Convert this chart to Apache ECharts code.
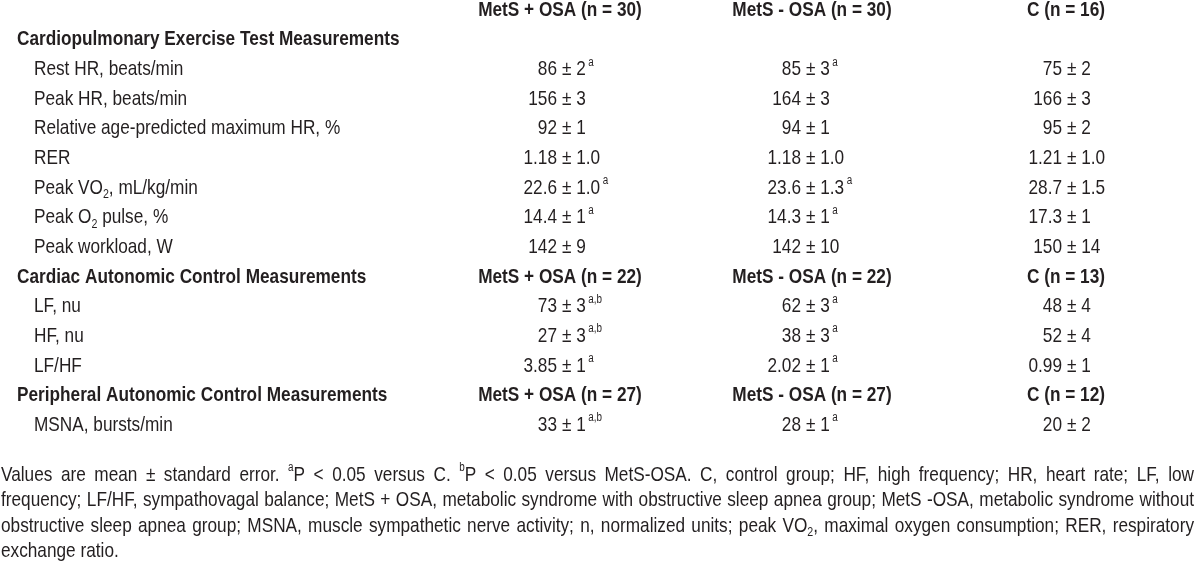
<!DOCTYPE html>
<html><head><meta charset="utf-8">
<script src="https://cdn.jsdelivr.net/npm/echarts@6/dist/echarts.min.js"></script>
<style>html,body{margin:0;padding:0;background:#fff}#c{width:1200px;height:564px}</style>
</head><body><div id="c"></div>
<script>
// ---------------- DATA ----------------
const rowLabels = ['', 'Cardiopulmonary Exercise Test Measurements', 'Rest HR, beats/min', 'Peak HR, beats/min',
  'Relative age-predicted maximum HR, %', 'RER', 'Peak VO_2, mL/kg/min', 'Peak O_2 pulse, %', 'Peak workload, W',
  'Cardiac Autonomic Control Measurements', 'LF, nu', 'HF, nu', 'LF/HF',
  'Peripheral Autonomic Control Measurements', 'MSNA, bursts/min'];
const rowKinds = ['group', 'section', 'item', 'item', 'item', 'item', 'item', 'item', 'item',
  'section', 'item', 'item', 'item', 'section', 'item'];
const metsWithOsa = ['MetS + OSA (n = 30)', '', '86 ± 2^a', '156 ± 3', '92 ± 1', '1.18 ± 1.0', '22.6 ± 1.0^a',
  '14.4 ± 1^a', '142 ± 9', 'MetS + OSA (n = 22)', '73 ± 3^a,b', '27 ± 3^a,b', '3.85 ± 1^a', 'MetS + OSA (n = 27)', '33 ± 1^a,b'];
const metsWithoutOsa = ['MetS - OSA (n = 30)', '', '85 ± 3^a', '164 ± 3', '94 ± 1', '1.18 ± 1.0', '23.6 ± 1.3^a',
  '14.3 ± 1^a', '142 ± 10', 'MetS - OSA (n = 22)', '62 ± 3^a', '38 ± 3^a', '2.02 ± 1^a', 'MetS - OSA (n = 27)', '28 ± 1^a'];
const controlGroup = ['C (n = 16)', '', '75 ± 2', '166 ± 3', '95 ± 2', '1.21 ± 1.0', '28.7 ± 1.5',
  '17.3 ± 1', '150 ± 14', 'C (n = 13)', '48 ± 4', '52 ± 4', '0.99 ± 1', 'C (n = 12)', '20 ± 2'];
const footnoteLines = [
  'Values are mean ± standard error. ^aP < 0.05 versus C. ^bP < 0.05 versus MetS-OSA. C, control group; HF, high frequency; HR, heart rate; LF, low',
  'frequency; LF/HF, sympathovagal balance; MetS + OSA, metabolic syndrome with obstructive sleep apnea group; MetS -OSA, metabolic syndrome without',
  'obstructive sleep apnea group; MSNA, muscle sympathetic nerve activity; n, normalized units; peak VO_2, maximal oxygen consumption; RER, respiratory',
  'exchange ratio.'
];

// ---------------- LAYOUT / STYLE ----------------
const FONT = '"Liberation Sans", Arial, sans-serif';
const INK = '#231f20';
const FS = 21;
const FOOT_FS = 21;
const SX = 0.82;   // horizontal condensing to mimic a narrow face
const L = {
  sectionX: 17, itemX: 34,
  colCenter: [560, 812, 1066],
  pmX: [562, 806, 1067],
  pmGap: 5,
  footLeft: 1, footRight: 1194,
  footY: [475, 500.5, 526, 551.5]
};

function richStyles(size) {
  return {
    n: { fontSize: size, fontFamily: FONT, fill: INK, lineHeight: 26 },
    b: { fontSize: size, fontFamily: FONT, fontWeight: 'bold', fill: INK, lineHeight: 26 },
    sup: { fontSize: Math.round(size * 0.58), fontFamily: FONT, fill: INK, lineHeight: 14, verticalAlign: 'top', padding: [0, 0, 0, 3] },
    sup0: { fontSize: Math.round(size * 0.58), fontFamily: FONT, fill: INK, lineHeight: 14, verticalAlign: 'top' },
    sub: { fontSize: Math.round(size * 0.62), fontFamily: FONT, fill: INK, lineHeight: 14, verticalAlign: 'bottom' }
  };
}
function parseSegs(s) {
  const out = []; const re = /\^([a-z,]+)|_(\d+)/g; let last = 0, m;
  while ((m = re.exec(s))) {
    if (m.index > last) out.push({ t: 'n', s: s.slice(last, m.index) });
    out.push(m[1] ? { t: 'sup', s: m[1] } : { t: 'sub', s: m[2] });
    last = re.lastIndex;
  }
  if (last < s.length) out.push({ t: 'n', s: s.slice(last) });
  return out;
}
function toRich(s, base, supStyle) {
  return parseSegs(s).map(g => '{' + (g.t === 'n' ? base : (g.t === 'sup' ? (supStyle || 'sup') : 'sub')) + '|' + g.s + '}').join('');
}
const RICH = richStyles(FS);
const FRICH = richStyles(FOOT_FS);

function rowY(api, i) { return api.coord([0, i])[1]; }
function txt(x, y, text, rich, align) {
  return { type: 'text', x: x, y: y, scaleX: SX, style: { text: text, rich: rich, x: 0, y: 0, align: align, verticalAlign: 'middle' } };
}

function labelRender(params, api) {
  const i = params.dataIndex;
  const kind = rowKinds[i];
  const t = rowLabels[i];
  if (!t) return { type: 'group', children: [] };
  const bold = kind === 'section';
  return txt(bold ? L.sectionX : L.itemX, rowY(api, i), toRich(t, bold ? 'b' : 'n'), RICH, 'left');
}
function makeColRender(values, c) {
  return function (params, api) {
    const i = params.dataIndex;
    const v = values[i];
    const y = rowY(api, i);
    if (!v) return { type: 'group', children: [] };
    if (rowKinds[i] !== 'item') {
      return txt(L.colCenter[c], y, toRich(v, 'b'), RICH, 'center');
    }
    const k = v.indexOf('±');
    const left = v.slice(0, k).trim();
    const right = v.slice(k);
    return {
      type: 'group',
      children: [
        txt(L.pmX[c] - L.pmGap, y, '{n|' + left + '}', RICH, 'right'),
        txt(L.pmX[c], y, toRich(right, 'n'), RICH, 'left')
      ]
    };
  };
}

// ---------- footnote (justified) ----------
const mctx = document.createElement('canvas').getContext('2d');
function segWidth(g) {
  const st = FRICH[g.t === 'n' ? 'n' : (g.t === 'sup' ? 'sup0' : 'sub')];
  mctx.font = st.fontSize + 'px ' + FONT;
  return mctx.measureText(g.s).width * SX;
}
function wordWidth(w) { return parseSegs(w).reduce((a, g) => a + segWidth(g), 0); }
const footGraphics = [];
footnoteLines.forEach((line, li) => {
  const words = line.split(' ');
  const widths = words.map(wordWidth);
  const total = widths.reduce((a, b) => a + b, 0);
  const justify = li < footnoteLines.length - 1;
  mctx.font = FOOT_FS + 'px ' + FONT;
  const gap = justify ? (L.footRight - L.footLeft - total) / (words.length - 1) : mctx.measureText(' ').width * SX;
  let x = L.footLeft;
  words.forEach((w, wi) => {
    footGraphics.push({
      type: 'text', x: x, y: L.footY[li], scaleX: SX,
      style: { text: toRich(w, 'n', 'sup0'), rich: FRICH, x: 0, y: 0, align: 'left', verticalAlign: 'middle' },
      silent: true
    });
    x += widths[wi] + gap;
  });
});

const chart = echarts.init(document.getElementById('c'), null, { renderer: 'canvas' });
chart.setOption({
  backgroundColor: '#ffffff',
  animation: false,
  grid: { left: 0, right: 0, top: 10, height: 415, containLabel: false },
  xAxis: { type: 'value', min: 0, max: 1200, show: false },
  yAxis: { type: 'category', data: rowLabels.map((_, i) => String(i)), inverse: true, boundaryGap: false, show: false },
  series: [
    { type: 'custom', name: 'labels', renderItem: labelRender, data: rowLabels.map((_, i) => [0, i]), encode: { x: 0, y: 1 }, silent: true, clip: false },
    { type: 'custom', name: 'MetS + OSA', renderItem: makeColRender(metsWithOsa, 0), data: metsWithOsa.map((_, i) => [0, i]), encode: { x: 0, y: 1 }, silent: true, clip: false },
    { type: 'custom', name: 'MetS - OSA', renderItem: makeColRender(metsWithoutOsa, 1), data: metsWithoutOsa.map((_, i) => [0, i]), encode: { x: 0, y: 1 }, silent: true, clip: false },
    { type: 'custom', name: 'C', renderItem: makeColRender(controlGroup, 2), data: controlGroup.map((_, i) => [0, i]), encode: { x: 0, y: 1 }, silent: true, clip: false }
  ],
  graphic: footGraphics
});
</script></body></html>
